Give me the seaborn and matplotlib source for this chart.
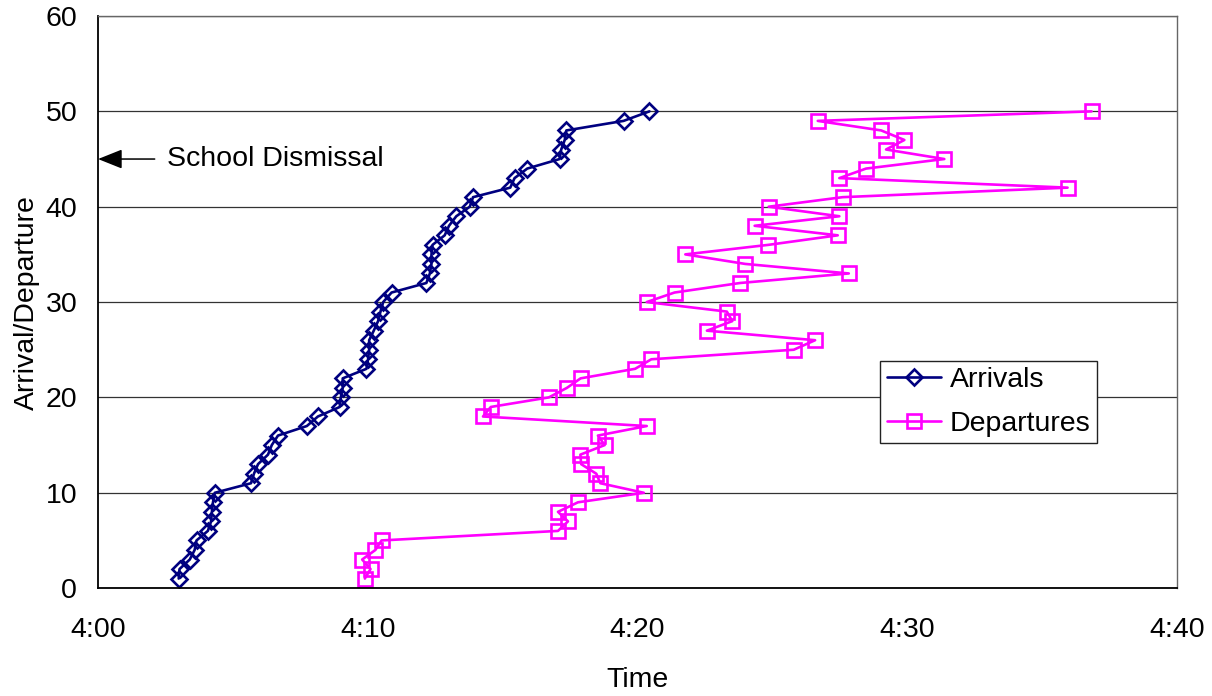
import numpy as np
import pandas as pd
import seaborn as sns
import matplotlib
matplotlib.use("Agg")
import matplotlib.pyplot as plt

# Order of arrival / departure (y axis)
order = [1, 2, 3, 4, 5, 6, 7, 8, 9, 10,
         11, 12, 13, 14, 15, 16, 17, 18, 19, 20,
         21, 22, 23, 24, 25, 26, 27, 28, 29, 30,
         31, 32, 33, 34, 35, 36, 37, 38, 39, 40,
         41, 42, 43, 44, 45, 46, 47, 48, 49, 50]

# Minutes after 4:00
arrivals = [2.99, 3.02, 3.40, 3.58, 3.65, 4.07, 4.19, 4.22, 4.26, 4.33,
            5.67, 5.78, 5.93, 6.30, 6.44, 6.67, 7.74, 8.15, 8.96, 9.00,
            9.07, 9.07, 9.95, 10.01, 10.05, 10.05, 10.22, 10.38, 10.47, 10.57,
            10.88, 12.17, 12.30, 12.36, 12.36, 12.40, 12.85, 13.01, 13.28, 13.78,
            13.90, 15.28, 15.44, 15.91, 17.11, 17.17, 17.30, 17.36, 19.48, 20.44]

departures = [9.89, 10.10, 9.79, 10.28, 10.51, 17.05, 17.42, 17.05, 17.79, 20.23,
              18.62, 18.47, 17.91, 17.88, 18.78, 18.53, 20.34, 14.27, 14.56, 16.71,
              17.38, 17.89, 19.91, 20.51, 25.79, 26.58, 22.57, 23.51, 23.31, 20.34,
              21.37, 23.80, 27.83, 23.99, 21.77, 24.85, 27.42, 24.34, 27.48, 24.86,
              27.60, 35.94, 27.48, 28.47, 31.37, 29.21, 29.89, 29.03, 26.68, 36.83]

x_ticks = [0, 10, 20, 30, 40]
x_ticklabels = ["4:00", "4:10", "4:20", "4:30", "4:40"]
y_ticks = [0, 10, 20, 30, 40, 50, 60]

df_arr = pd.DataFrame({"Time": arrivals, "Order": order})
df_dep = pd.DataFrame({"Time": departures, "Order": order})

sns.set_style("white")
plt.rcParams["font.family"] = ["Liberation Sans", "DejaVu Sans"]
plt.rcParams["text.color"] = "black"
plt.rcParams["axes.labelcolor"] = "black"

fs = 20.5

fig = plt.figure(figsize=(12.12, 6.96), dpi=100)
ax = fig.add_axes([0.0809, 0.155, 0.8903, 0.822])

sns.lineplot(data=df_arr, x="Time", y="Order", sort=False, estimator=None,
             color="#000080", marker="D", markersize=8.5, markerfacecolor="none",
             markeredgecolor="#000080", markeredgewidth=1.9, linewidth=1.9,
             label="Arrivals", ax=ax)
sns.lineplot(data=df_dep, x="Time", y="Order", sort=False, estimator=None,
             color="#FF00FF", marker="s", markersize=9.5, markerfacecolor="none",
             markeredgecolor="#FF00FF", markeredgewidth=1.9, linewidth=1.9,
             label="Departures", ax=ax)

ax.set_xlim(0, 40)
ax.set_ylim(0, 60)
ax.set_xticks(x_ticks)
ax.set_xticklabels(x_ticklabels)
ax.set_yticks(y_ticks)
ax.tick_params(axis="both", labelsize=fs, direction="out", length=7,
               width=1, color="black", labelcolor="black")
ax.tick_params(axis="x", pad=14)
ax.tick_params(axis="y", pad=8)

ax.yaxis.grid(True, color="#333333", linewidth=0.9)
ax.xaxis.grid(False)
ax.set_axisbelow(True)

for side in ["left", "bottom"]:
    ax.spines[side].set_color("black")
    ax.spines[side].set_linewidth(1.3)
for side in ["top", "right"]:
    ax.spines[side].set_color("#666666")
    ax.spines[side].set_linewidth(1.0)

ax.set_xlabel("Time", fontsize=fs, labelpad=17)
ax.set_ylabel("Arrival/Departure", fontsize=fs, labelpad=4)

# School dismissal marker
ax.annotate("", xy=(0, 45), xytext=(2.1, 45),
            arrowprops=dict(arrowstyle="-|>,head_length=1.5,head_width=0.6",
                            color="black", lw=1.1, shrinkA=0, shrinkB=0),
            annotation_clip=False)
ax.text(2.55, 45, "School Dismissal", fontsize=fs, va="center", ha="left")

handles, labels = ax.get_legend_handles_labels()
leg = ax.legend(handles, labels, loc="lower left", bbox_to_anchor=(0.725, 0.2535),
                borderaxespad=0, fontsize=fs, frameon=True, fancybox=False,
                framealpha=1, edgecolor="#222222", handlelength=1.9,
                handletextpad=0.3, borderpad=0.23, labelspacing=0.6)
leg.get_frame().set_linewidth(1.0)

fig.savefig("out.png", dpi=100, facecolor="white")
